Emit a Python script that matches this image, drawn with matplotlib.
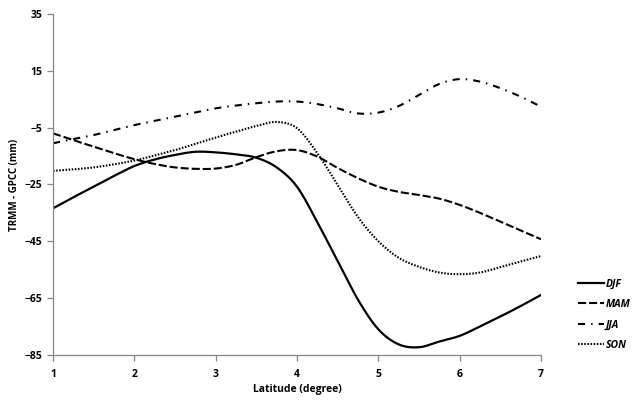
import numpy as np
import matplotlib
matplotlib.use("Agg")
import matplotlib.pyplot as plt

latitude = [1.0, 1.25, 1.5, 1.75, 2.0, 2.25, 2.5, 2.75, 3.0, 3.25, 3.5, 3.75, 4.0,
            4.25, 4.5, 4.75, 5.0, 5.25, 5.5, 5.75, 6.0, 6.25, 6.5, 6.75, 7.0]
djf = [-33.4, -29.5, -25.8, -22.0, -18.5, -16.2, -14.6, -13.5, -13.7, -14.4, -15.6, -19.0, -25.8,
       -38.3, -52.0, -65.6, -76.0, -81.3, -82.3, -80.3, -78.3, -75.0, -71.5, -67.8, -63.9]
mam = [-7.0, -9.4, -11.7, -14.0, -16.1, -17.8, -19.0, -19.5, -19.4, -18.1, -15.4, -13.3, -12.9,
       -15.2, -19.2, -22.8, -25.8, -27.6, -28.7, -30.0, -32.2, -35.0, -38.1, -41.2, -44.3]
jja = [-10.5, -9.0, -7.6, -5.8, -4.1, -2.6, -1.1, 0.4, 1.8, 2.8, 3.6, 4.2, 4.2,
       3.3, 1.8, 0.0, 0.3, 2.6, 6.5, 10.4, 12.1, 11.2, 8.9, 5.9, 2.4]
son = [-20.2, -19.7, -19.0, -17.9, -16.6, -14.8, -12.9, -10.7, -8.5, -6.4, -4.4, -3.0, -5.2,
       -14.0, -25.2, -36.5, -45.0, -50.8, -54.0, -56.0, -56.6, -56.0, -54.1, -52.1, -50.2]
series_names = ["DJF", "MAM", "JJA", "SON"]
x_ticks = [1, 2, 3, 4, 5, 6, 7]
y_ticks = [-85, -65, -45, -25, -5, 15, 35]


def smooth(xs, ys, n=20):
    """Catmull-Rom smoothing (like Excel's smoothed line) for rendering."""
    xs = np.asarray(xs, float)
    ys = np.asarray(ys, float)
    px = np.concatenate([[2 * xs[0] - xs[1]], xs, [2 * xs[-1] - xs[-2]]])
    py = np.concatenate([[2 * ys[0] - ys[1]], ys, [2 * ys[-1] - ys[-2]]])
    ox, oy = [], []
    t = np.linspace(0, 1, n, endpoint=False)
    for i in range(1, len(px) - 2):
        for arr, out in ((px, ox), (py, oy)):
            p0, p1, p2, p3 = arr[i - 1], arr[i], arr[i + 1], arr[i + 2]
            out.extend(0.5 * (2 * p1 + (-p0 + p2) * t + (2 * p0 - 5 * p1 + 4 * p2 - p3) * t ** 2
                              + (-p0 + 3 * p1 - 3 * p2 + p3) * t ** 3))
    ox.append(xs[-1])
    oy.append(ys[-1])
    return np.array(ox), np.array(oy)


fig = plt.figure(figsize=(6.35, 4.01), dpi=100)
ax = fig.add_axes([0.0835, 0.115, 0.7685, 0.85])

styles = [
    dict(linestyle="-", lw=1.6),
    dict(linestyle=(0, (3.9, 1.4)), lw=1.5),
    dict(linestyle=(0, (3.4, 2.9, 0.7, 2.9)), lw=1.5),
    dict(linestyle=(0, (0.75, 0.75)), lw=1.5),
]
for name, vals, st in zip(series_names, [djf, mam, jja, son], styles):
    sx, sy = smooth(latitude, vals)
    ax.plot(sx, sy, color="black", label=name, **st)

ax.set_xlim(1, 7)
ax.set_ylim(-85, 35)
ax.set_xticks(x_ticks)
ax.set_yticks(y_ticks)
grey = "#868686"
for s in ["top", "right"]:
    ax.spines[s].set_visible(False)
for s in ["left", "bottom"]:
    ax.spines[s].set_color(grey)
    ax.spines[s].set_linewidth(0.9)
ax.tick_params(axis="both", color=grey, length=4, width=0.9, labelsize=7.5)
ax.tick_params(axis="x", pad=6)
for lab in ax.get_xticklabels() + ax.get_yticklabels():
    lab.set_fontweight("bold")
    lab.set_fontfamily("Open Sans")

ax.set_xlabel("Latitude (degree)", fontsize=7.5, fontweight="bold", family="Open Sans")
ax.set_ylabel("TRMM - GPCC (mm)", fontsize=7, fontweight="bold", family="Open Sans")
ax.yaxis.set_label_coords(-0.068, 0.5)
ax.xaxis.set_label_coords(0.5, -0.085)

leg = ax.legend(loc="center left", bbox_to_anchor=(0.895, 0.215), bbox_transform=fig.transFigure,
                frameon=False, handlelength=2.5, handletextpad=0.2, labelspacing=0.9,
                prop=dict(family="Open Sans", weight="bold", style="italic", size=7.5))

fig.savefig("out.png", dpi=100)
